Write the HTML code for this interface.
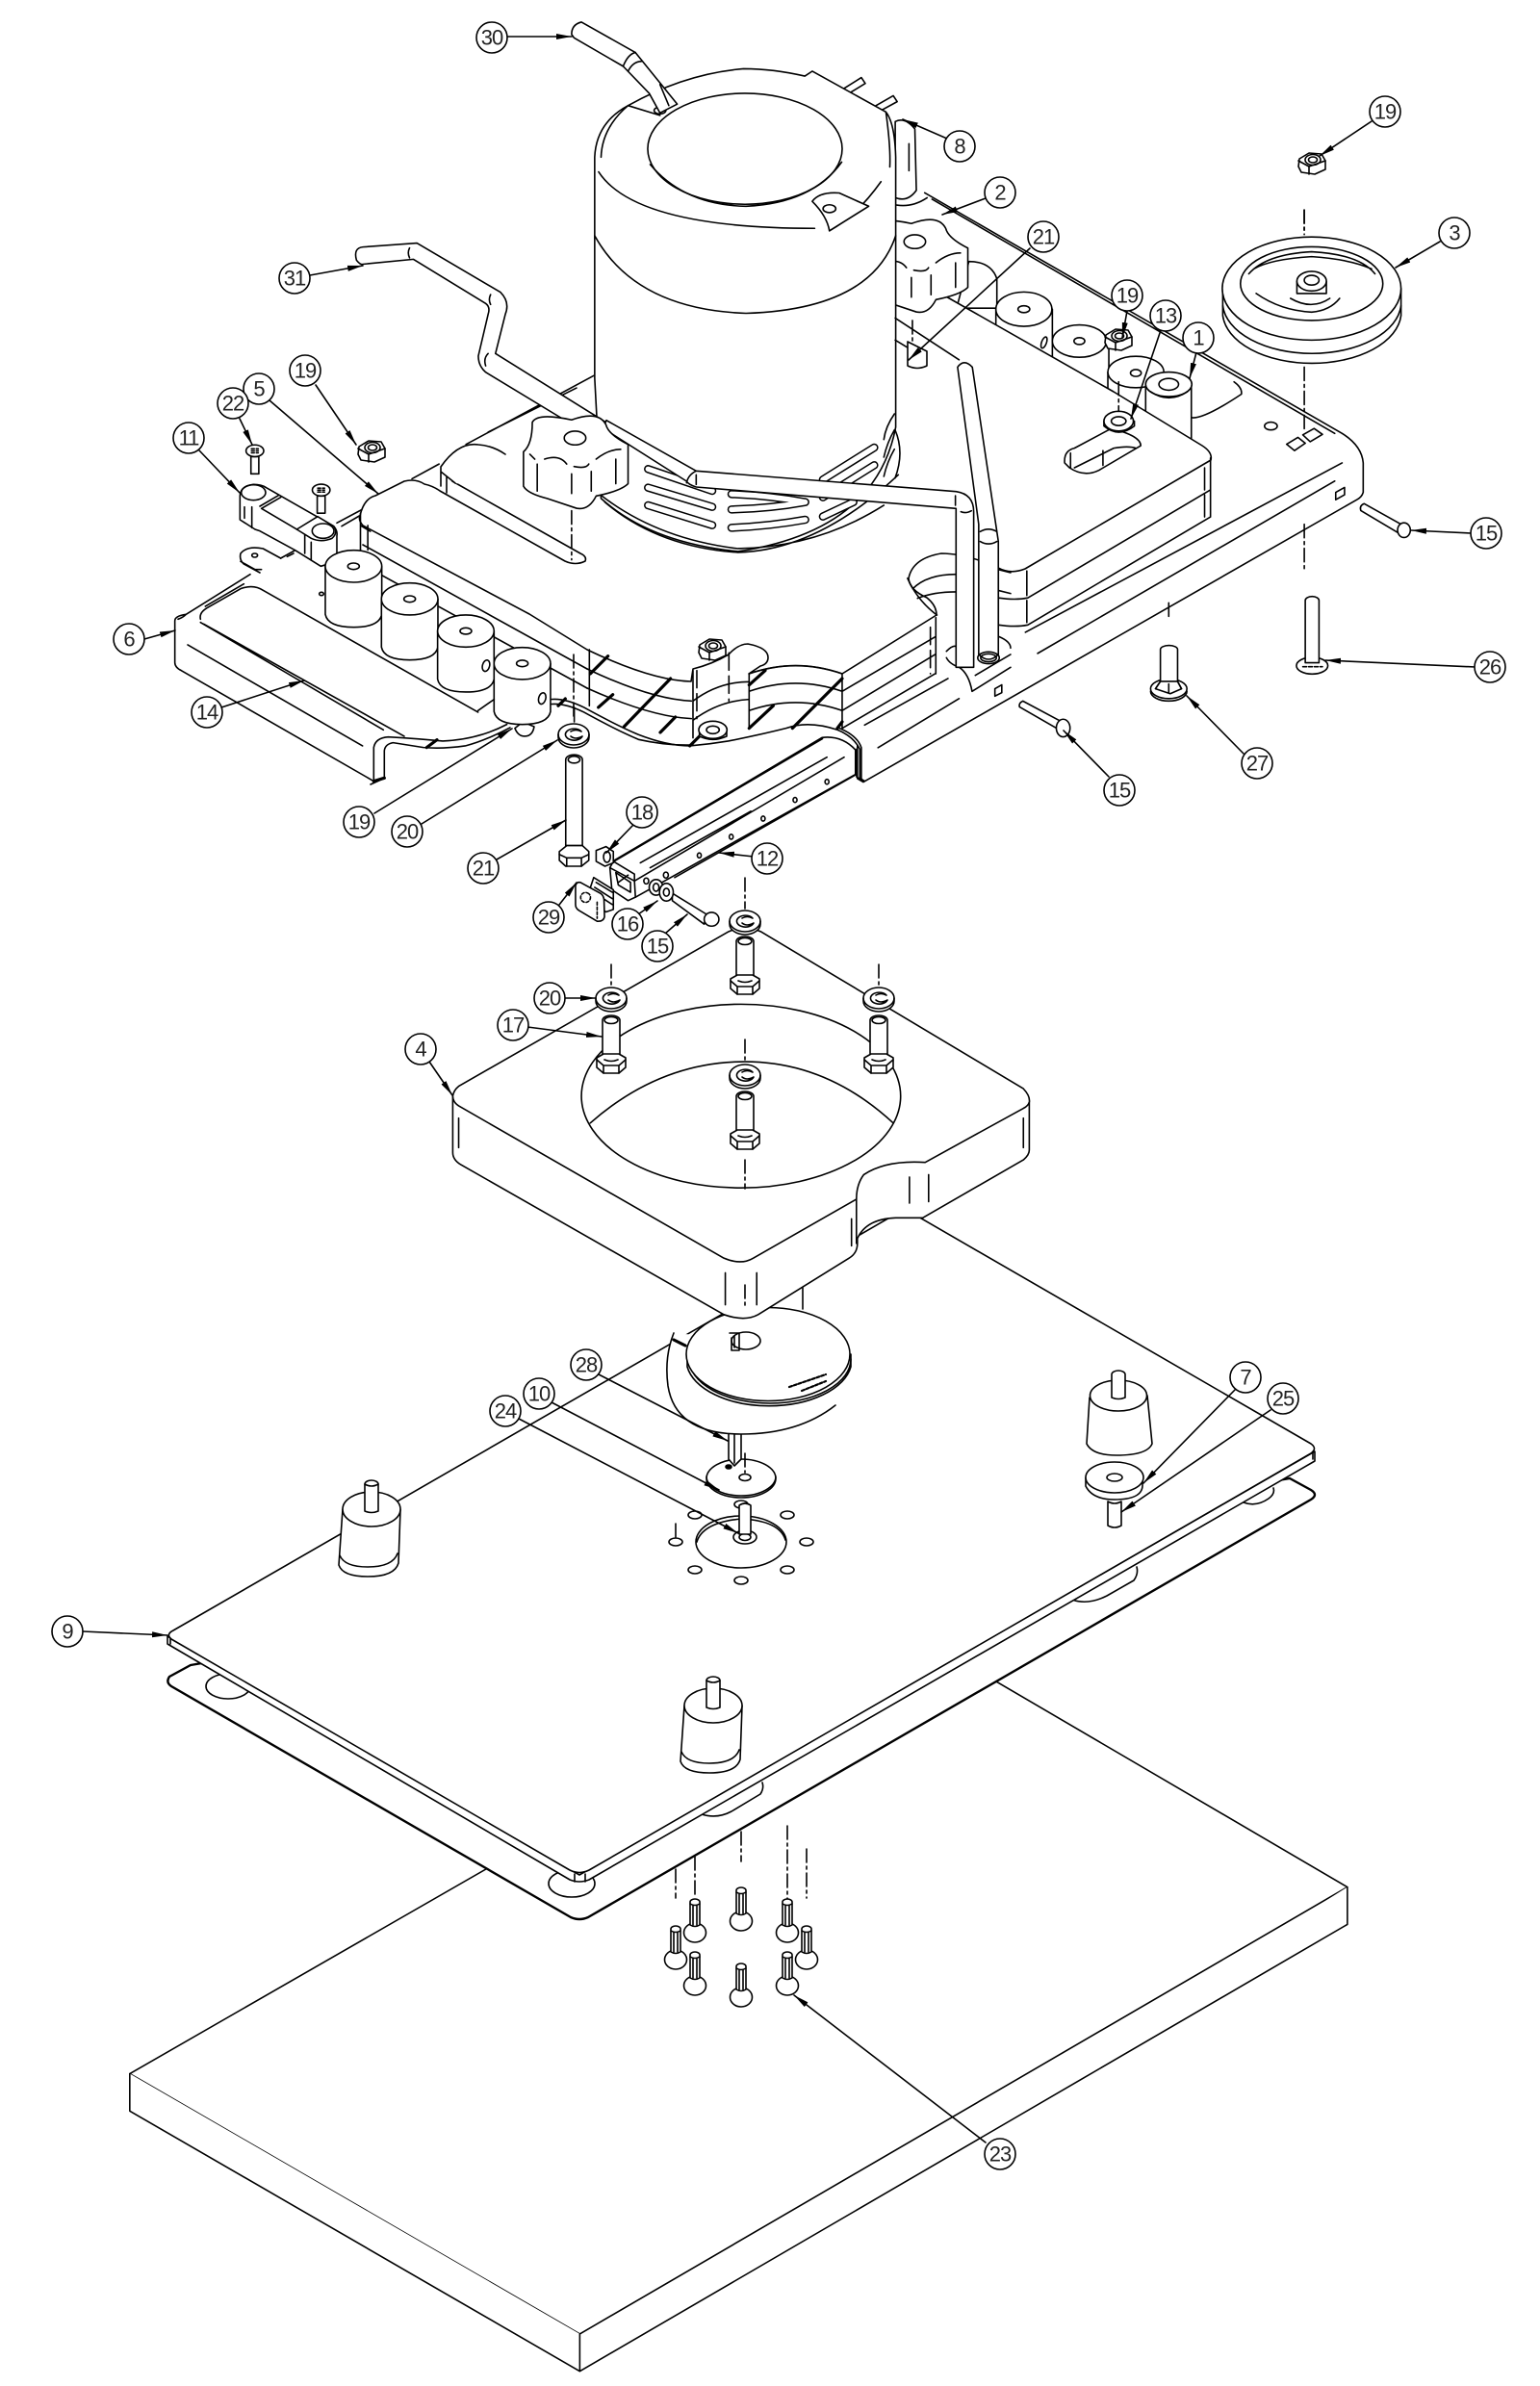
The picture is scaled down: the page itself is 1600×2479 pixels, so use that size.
<!DOCTYPE html>
<html><head><meta charset="utf-8"><style>
html,body{margin:0;padding:0;background:#fff}
svg{display:block;fill:none;stroke:#000;stroke-width:1.6;stroke-linejoin:round;stroke-linecap:round}
svg *{vector-effect:non-scaling-stroke}
.w{fill:#fff}.k{fill:#000}.h{stroke-width:3.2}.t{stroke-width:2.4}.n{fill:#fff;stroke:none}
.d{stroke-dasharray:14 4 3 4}.e{stroke-dasharray:18 6}
text{font:22px "Liberation Sans",sans-serif;letter-spacing:-1px;fill:#222;stroke:none;text-anchor:middle;dominant-baseline:central}
</style></head><body>
<svg width="1600" height="2479" viewBox="0 0 1600 2479" xmlns="http://www.w3.org/2000/svg">
<defs>
<marker id="a" markerUnits="userSpaceOnUse" markerWidth="18" markerHeight="10" refX="16" refY="5" orient="auto"><path d="M0,2 L16,5 L0,8Z" fill="#000" stroke="none"/></marker>
<g id="nut"><path class="w" d="M-13,-5L-3,-11L10,-10L14,-3V6L3,11L-11,9L-14,3Z"/><path d="M-14,-3L-3,3L14,-3M-3,3V11"/><ellipse cx="1" cy="-4" rx="8" ry="5.5"/><ellipse cx="1" cy="-4" rx="4.5" ry="3"/></g>
<g id="wa"><path class="w" d="M-16,0V3A16,11 0 0 0 16,3V0A16,11 0 0 0 -16,0Z"/><path d="M-16,0A16,11 0 0 0 16,0"/><path d="M7,-4A9,6 0 1 0 9,2Q2,6 -3,2M-3,-3Q2,-6 8,-3"/></g>
<g id="bolt"><path class="w" d="M-9,3V42H9V3A9,5 0 0 0 -9,3Z"/><ellipse cy="3" rx="7" ry="3.5"/><path class="w" d="M-15,42L-8,38H8L15,42V52L8,58H-8L-15,52Z"/><path d="M-15,44L-8,50H8L15,44M-8,50V58M8,50V58M-7,44Q0,47 7,44"/></g>
<g id="pad"><path class="w" d="M-30,0L-34,58Q-30,70 -4,70Q24,70 28,56L30,0Z"/><path d="M-33,48Q-28,60 -4,60Q22,60 27,46"/><ellipse class="w" rx="30" ry="18"/><path class="w" d="M-7,2V-26A7,4 0 0 1 7,-26V2Q0,5 -7,2Z"/><path d="M-7,-26Q0,-22 7,-26"/></g>
<g id="sc"><ellipse class="w" rx="11.5" ry="10"/><path class="w" d="M-5,-8V-32A5,3 0 0 1 5,-32V-8Q0,-5 -5,-8Z"/><path d="M-5,-30Q0,-27 5,-30M-2,-28V-8M2,-28V-8"/></g>
<g id="cyl"><path class="w" d="M-88,0V150Q-80,190 0,190Q80,190 88,150V0Z"/><ellipse class="w" rx="88" ry="50"/><ellipse rx="18" ry="10"/></g>
<g id="knob"><path class="w" d="M790,860Q800,840 870,855Q925,835 940,865Q945,885 985,905V985Q970,1000 920,1010Q905,1040 880,1035L820,1015Q780,1005 772,990V920Q790,905 790,860Z"/><ellipse cx="877" cy="892" rx="22" ry="14"/><path d="M785,925L795,935M815,935Q845,925 860,945M875,950Q900,955 905,945M920,935Q945,915 970,915M870,965V1005M910,960V1000M800,945V1000M960,935V985"/></g>
</defs>

<!-- slab -->
<g transform="translate(100,1679) scale(.829,.5102)"><path class="w" d="M42,932L1014,25L1568,552L606,1462Z"/><path class="w" d="M42,932V1008L606,1538V1462M606,1538L1568,628V552"/></g>

<!-- lower sheet & plate -->
<path class="w t" d="M198,1730L176,1742Q172,1748 178,1752L593,1992Q602,1996 611,1992L1362,1558Q1370,1553 1362,1548L1340,1536Z"/>
<ellipse cx="237" cy="1752" rx="23" ry="13"/><ellipse cx="594" cy="1957" rx="24" ry="14"/>
<path d="M1114,1662Q1130,1668 1150,1658L1178,1642Q1183,1635 1181,1628M729,1885Q745,1890 760,1882L790,1864Q794,1858 792,1852M1292,1561Q1305,1566 1318,1557Q1325,1552 1323,1546"/>
<path class="w" d="M174,1700V1708L592,1953Q602,1957 612,1953L1366,1518V1508L602,1948Z"/>
<path class="w" d="M180,1694L940,1256L1362,1500Q1369,1505 1362,1510L612,1943Q602,1948 592,1943L178,1703Q172,1698 180,1694Z"/>
<path d="M177,1702V1708M597,1947V1955M608,1947V1955M1364,1508V1516"/>

<!-- plate hole + holes -->
<ellipse cx="770" cy="1602" rx="47" ry="27"/><path d="M724,1602Q730,1582 770,1578Q810,1580 816,1600"/>
<g><ellipse cx="722" cy="1574" rx="7" ry="4"/><ellipse cx="818" cy="1574" rx="7" ry="4"/><ellipse cx="770" cy="1563" rx="7" ry="4"/><ellipse cx="702" cy="1602" rx="7" ry="4"/><ellipse cx="722" cy="1631" rx="7" ry="4"/><ellipse cx="770" cy="1642" rx="7" ry="4"/><ellipse cx="818" cy="1631" rx="7" ry="4"/><ellipse cx="838" cy="1602" rx="7" ry="4"/></g>
<ellipse class="w" cx="774" cy="1597" rx="12" ry="7"/><ellipse cx="774" cy="1597" rx="6" ry="3.5"/>
<path class="w" d="M768,1564Q774,1560 780,1564V1594H768Z"/>
<line class="d" x1="702" y1="1583" x2="702" y2="1600"/>

<!-- pads -->
<use href="#pad" x="386" y="1568"/><use href="#pad" x="741" y="1772"/>
<path class="w" d="M1132,1452L1129,1500Q1135,1512 1160,1512Q1192,1512 1197,1500L1192,1450Z"/>
<ellipse class="w" cx="1162" cy="1450" rx="29.5" ry="16"/><path class="w" d="M1155,1452V1428A7,4 0 0 1 1169,1428V1452Q1162,1455 1155,1452Z"/>
<path class="w" d="M1128,1535V1544Q1135,1558 1158,1558Q1186,1558 1187,1544V1535Z"/><ellipse class="w" cx="1158" cy="1535" rx="30" ry="16"/><ellipse cx="1158" cy="1535" rx="8" ry="4"/>
<path class="w" d="M1151,1560V1585Q1158,1589 1165,1585V1560Q1158,1564 1151,1560Z"/>

<!-- disc 10, shaft -->
<ellipse class="w" cx="770" cy="1536" rx="36" ry="20"/><path d="M734,1534A36,20 0 0 0 806,1534"/><ellipse cx="774" cy="1535" rx="6" ry="3.5"/><ellipse class="k" cx="757" cy="1524" rx="3" ry="2"/>
<path class="w" d="M757,1488V1516L763,1523L770,1516V1488Z"/><path d="M763,1488V1520"/><line class="d" x1="774" y1="1510" x2="774" y2="1530"/>

<!-- pulley -->
<path d="M834,1338V1360"/>
<path class="n" d="M700,1385Q690,1410 694,1440Q702,1490 770,1490Q830,1490 868,1462L870,1400Z"/>
<path d="M700,1385Q690,1410 694,1440Q702,1490 770,1490Q830,1490 868,1460"/>
<path class="w" d="M714,1407V1420A86,48 0 0 0 884,1420V1407Z"/>
<path d="M716,1412A84,46 0 0 0 884,1412"/>
<ellipse class="w" cx="798" cy="1407" rx="85" ry="48.5"/>
<ellipse cx="775" cy="1393" rx="15" ry="9"/><path d="M758,1385H768V1403H760V1390M763,1388V1400"/>
<line x1="820" y1="1441" x2="858" y2="1428" stroke-width="2.2" stroke-dasharray="3 2"/><line x1="833" y1="1445" x2="858" y2="1435" stroke-width="2.2" stroke-dasharray="3 2"/>

<!-- block 4 -->
<g transform="translate(400,700) scale(.5102)">
<path class="w" d="M138,860V975Q138,990 155,1000L690,1305Q733,1320 760,1305L945,1190Q962,1180 962,1160V1150Q980,1110 1040,1108H1095L1300,990Q1312,980 1312,970V870Z"/>
<path class="w" d="M138,860Q140,848 150,840L700,525Q733,510 765,525L1300,845Q1314,860 1312,872Q1310,880 1300,885L1100,995Q1020,990 975,1020Q960,1040 960,1070L750,1190Q725,1205 690,1190L150,880Q138,872 138,860Z"/>
<ellipse class="w" cx="725" cy="860" rx="325" ry="187"/>
<path d="M418,915Q560,790 733,790Q900,790 1035,915M960,1070V1160M150,905V965M1300,905V965M693,1220V1285M757,1220V1285M950,1110V1165M1068,1025V1078M1107,1020V1075"/>
</g>
<path class="d" d="M774,912V944M635,1002V1027M913,1002V1027M774,1080V1105M774,1205V1235M596,680V745M774,1335V1360"/>
<use href="#wa" x="774" y="957"/><use href="#wa" x="635" y="1037"/><use href="#wa" x="913" y="1037"/><use href="#wa" x="774" y="1117"/>
<use href="#bolt" x="774" y="975"/><use href="#bolt" x="635" y="1057"/><use href="#bolt" x="913" y="1057"/><use href="#bolt" x="774" y="1136"/>

<!-- screws, dashes -->
<path class="d" d="M702,1942V1972M722,1929V1972M770,1903V1934M818,1897V1975M838,1921V1972"/>
<use href="#sc" x="722" y="2008"/><use href="#sc" x="770" y="1996"/><use href="#sc" x="818" y="2008"/><use href="#sc" x="702" y="2036"/><use href="#sc" x="838" y="2036"/><use href="#sc" x="722" y="2063"/><use href="#sc" x="770" y="2075"/><use href="#sc" x="818" y="2063"/>

<!-- base frame right -->
<g transform="translate(800,60) scale(.5102)">
<path d="M315,275L1165,765Q1205,790 1208,825V885Q1205,895 1195,900L190,1475L178,1468V1400M330,288L1150,765M1165,825L520,1170M1150,862L545,1213M385,1305L220,1405M140,1365Q178,1380 186,1405V1470"/>
<ellipse cx="1020" cy="750" rx="13" ry="8"/>
<path d="M1052,787L1075,773L1090,785L1068,800ZM1085,768L1108,755L1125,767L1100,782ZM1152,885L1170,875V890L1152,900ZM458,1285L472,1277V1293L458,1300ZM860,733Q885,735 960,685Q962,672 945,660"/>
<path class="d" d="M1088,310V360M1088,630V760M1088,950V1045M812,1110V1140"/>
</g>
<!-- base frame left -->
<g transform="translate(150,500) scale(.3333)">
<path d="M95,435Q95,420 130,415L330,290M190,390L310,320M95,435V565Q95,580 115,590L715,935M130,415Q120,425 105,430M360,285L310,258Q295,245 300,225Q320,200 370,210L425,240M300,250L345,275H365M135,510L680,825M175,430Q170,410 195,395L300,335Q340,320 370,340L1040,720M175,440L745,775M185,445L810,795M705,945L750,925"/>
<ellipse cx="344" cy="231" rx="9" ry="6"/><ellipse cx="552" cy="351" rx="7" ry="5"/>
<path d="M600,130L675,90M615,140L670,108M425,240L470,215M445,235L465,225"/>
<path d="M715,935V830Q720,800 760,797Q850,802 930,810Q1040,805 1130,758M748,925V840Q750,820 775,815L870,830Q930,835 1000,825Q1060,810 1140,768"/>
<path class="h" d="M880,830L912,806M715,935L748,925"/>
</g>
<g transform="translate(150,0) scale(.5102)"><path d="M545,975L600,945M655,905L915,765M700,880L880,790"/></g>

<!-- bracket 11 -->
<g transform="translate(150,500) scale(.3333)">
<path class="w" d="M298,45Q300,15 340,10Q365,10 380,20L590,140Q603,155 600,170V250L550,265L470,215L360,155L345,150L298,120Z"/>
<path d="M365,85L425,50M360,78L418,44M335,80V145M312,80V115M365,85L475,150M500,165V225M520,190V245"/>
<ellipse cx="340" cy="35" rx="38" ry="24"/>
<path class="w" d="M475,150L540,110L590,140Q605,160 585,178Q550,192 520,178Z"/>
<ellipse cx="557" cy="155" rx="34" ry="23"/>
</g>
<g transform="translate(150,0) scale(.5102)">
<path class="w" d="M217,930V965H233V930Z"/><ellipse class="w" cx="225" cy="918" rx="18" ry="12"/><path d="M218,918H232M218,914H232M218,922H232" stroke-dasharray="3 2"/>
<path class="w" d="M352,1010V1045H368V1010Z"/><ellipse class="w" cx="360" cy="998" rx="18" ry="12"/><path d="M353,998H367M353,994H367M353,1002H367" stroke-dasharray="3 2"/>
</g>
<use href="#nut" x="386" y="469"/>

<!-- rear cylinders -->
<g transform="translate(800,60) scale(.5102)">
<path class="w" d="M405,415Q450,415 462,450V510H380Z"/>
<path class="w" d="M460,512V640H575V512Z"/><ellipse class="w" cx="517" cy="512" rx="57" ry="35"/><ellipse cx="517" cy="512" rx="12" ry="7"/><ellipse cx="558" cy="580" rx="5" ry="12" transform="rotate(20 558 580)"/>
<ellipse class="w" cx="630" cy="577" rx="55" ry="33"/><ellipse cx="630" cy="577" rx="11" ry="7"/>
<path d="M690,590V650"/>
<path class="w" d="M688,640V760H802V640Z"/><ellipse class="w" cx="745" cy="640" rx="57" ry="32"/><ellipse cx="745" cy="642" rx="11" ry="7"/>
<path class="w" d="M765,665V790H858V665Z"/><ellipse class="w" cx="812" cy="665" rx="47" ry="25"/><ellipse cx="812" cy="665" rx="20" ry="12"/><path d="M775,680Q812,705 850,680"/>
</g>

<!-- pad stack top -->
<path class="n" d="M374,536Q378,518 390,515L420,500Q432,497 441,503L700,400L981,307L1157,407L1249,463Q1260,470 1258,478L1065,591Q1050,597 1037,590Q1004,575 978,575Q948,580 944,601Q945,613 963,621Q973,629 973,639L875,700Q827,683 778,700L790,692Q798,690 798,683Q798,673 777,669Q767,669 757,680Q740,690 720,695L718,708Q677,707 610,675L550,638L377,546Q372,540 374,536Z"/>
<path d="M981,307L1157,407L1249,463Q1260,470 1258,478L1065,591Q1050,597 1037,590Q1004,575 978,575Q948,580 944,601Q945,613 963,621Q973,629 973,639L875,700Q827,683 778,700L790,692Q798,690 798,683Q798,673 777,669Q767,669 757,680Q740,690 720,695L718,708Q677,707 610,675L550,638L377,546Q372,540 374,536Q378,518 390,515L420,500Q432,497 441,503Q450,505 457,510L587,583Q598,588 608,583Q610,578 603,575L470,500"/>
<!-- rear slab -->
<path class="w" d="M458,485Q476,459 497,462Q512,463 525,472L620,520L473,502L458,490Z" stroke="none"/>
<path d="M458,505V485Q476,459 497,462Q512,463 525,472M458,490L473,502M464,495V512"/>
<path class="w" d="M943,355V380Q953,385 963,380V365Z"/>

<g transform="translate(150,0) scale(.5102)"><path d="M440,1045V1130M440,1070L460,1082M455,1070V1120"/></g>
<path d="M377,566L610,695M379,588L610,715"/>
<g transform="translate(550,400) scale(.3333)">
<path d="M180,885Q380,980 505,985M180,945Q380,1035 505,1040M187,825V1000"/>
<path d="M510,890V1100M685,900V1070M510,985Q590,925 685,925M510,1045Q590,985 685,980M685,955Q830,905 975,955M685,1015Q830,965 975,1015M685,900Q830,850 975,900M975,900V1070M975,955L1265,785M975,1015L1265,840M975,1070L1265,900M1267,725V900"/>
<path class="e" d="M1250,755V900M522,890V1040M622,835V985"/>
<path d="M1195,635Q1240,590 1330,590M1210,665Q1260,645 1330,645M1460,575L1500,585M1460,640L1500,650"/>
<path class="h" d="M190,900L245,845M215,1005L260,965M295,1065L440,915M408,1083L455,1035M500,1125L530,1095M685,935L735,890M685,1070L760,1000M820,1070L975,915M960,1070L975,1050M90,1000L112,978"/>
<path d="M65,980Q110,975 170,1005Q270,1060 340,1090Q430,1125 500,1125Q560,1120 620,1110Q720,1090 800,1070Q870,1045 960,1075Q1010,1095 1030,1135V1225L1045,1235"/>
<path d="M65,995Q110,990 170,1020Q270,1075 340,1105Q430,1125 510,1122M1020,1135V1222L1045,1235M1045,1060L1305,915"/>
<path d="M1300,830Q1320,810 1330,815M1300,850Q1310,870 1340,880Q1370,900 1380,955L1500,880M1390,905L1500,840M1465,785Q1500,800 1500,820"/>
</g>
<g transform="translate(800,60) scale(.5102)">
<path d="M465,1045V1155M465,1100Q500,1105 525,1100L897,880M465,1155Q500,1160 525,1155L897,935M897,815V935M885,835V880M885,890V935M523,1045V1095M523,1105V1150M280,1060Q300,1105 340,1135"/>
<path class="w" d="M600,825Q598,800 620,795L695,755Q755,770 755,790L670,840Q640,855 610,835Z"/>
<path d="M612,805V835M678,800V830M620,835L700,795Q730,790 745,795"/>
<path class="w" d="M680,740V750Q710,775 742,750V740Z"/><ellipse class="w" cx="710" cy="740" rx="30" ry="20"/><ellipse cx="710" cy="740" rx="15" ry="9"/>
<line class="d" x1="710" y1="660" x2="710" y2="720"/><line class="d" x1="290" y1="535" x2="290" y2="580"/>
</g>

<!-- left cushions -->
<g transform="translate(150,500) scale(.3333)">
<use href="#cyl" x="652" y="265"/><use href="#cyl" x="827" y="367"/><use href="#cyl" x="1002" y="467"/>
<ellipse cx="1065" cy="575" rx="11" ry="18" transform="rotate(15 1065 575)"/>
<path class="w" d="M1155,770Q1165,795 1185,795Q1210,795 1215,765L1180,750Z"/>
<use href="#cyl" x="1178" y="568"/>
<ellipse cx="1240" cy="677" rx="11" ry="18" transform="rotate(15 1240 677)"/>
<path d="M1040,715L1090,680M1340,705V750"/>
</g>
<use href="#wa" x="596" y="763"/>

<!-- knob 2, part 8 -->
<g transform="translate(800,60) scale(.5102)"><path class="w" d="M255,130Q275,120 295,145L298,270Q280,295 255,285Z"/><path d="M283,175V230M258,300Q290,305 320,285"/></g>
<g transform="translate(353,-204)"><g transform="translate(150,0) scale(.5102)"><use href="#knob"/></g></g>

<!-- motor -->
<g transform="translate(150,0) scale(.5102)">
<path d="M1425,180L1460,158L1468,170L1435,190M1490,215L1525,195L1533,207L1500,225"/>
<path class="w" d="M917,320Q920,250 985,215Q1100,150 1220,140Q1280,140 1345,155L1360,145L1510,228Q1528,250 1530,320V870Q1490,1080 1209,1123Q1030,1105 930,1015L917,770Z"/>
<path d="M917,480Q1000,630 1225,638Q1480,630 1530,480M925,350Q1000,465 1365,465M1395,470Q1450,440 1500,370M930,320Q932,260 985,215L1050,235M1510,228Q1520,300 1518,340"/>
<ellipse class="w" cx="1223" cy="303" rx="198" ry="113"/>
<path d="M1030,335Q1100,418 1225,420Q1360,414 1420,330"/>
<path class="w" d="M1360,410Q1375,390 1415,393L1475,420L1395,470Q1390,440 1360,410Z"/><ellipse cx="1395" cy="425" rx="13" ry="8"/>
<ellipse cx="1050" cy="225" rx="12" ry="7"/>
<path class="w" d="M870,70Q870,50 890,45L1000,107L1085,212L1050,230L1028,190L975,135L875,77Z"/><path d="M975,135Q985,110 1000,107M1050,172L1068,215M985,145Q995,125 1012,125"/>
</g>
<g transform="translate(550,400) scale(.3333)">
<path d="M225,345Q400,480 650,510Q900,505 1105,375M235,365Q400,505 650,522Q900,515 1150,280"/>
<g stroke-width="8.5"><path d="M370,262L570,330M370,320L570,380M370,375L570,437M630,340Q750,345 860,365M630,388Q750,385 860,365M630,445Q750,440 860,420M915,295L1075,195M915,350L1075,250M915,410L1010,365"/></g>
<g stroke="#fff" stroke-width="5.5"><path d="M370,262L570,330M370,320L570,380M370,375L570,437M630,340Q750,345 860,365M630,388Q750,385 860,365M630,445Q750,440 860,420M915,295L1075,195M915,350L1075,250M915,410L1010,365"/></g>
<path d="M1138,90Q1110,130 1105,170M1138,140Q1115,180 1105,225M1138,200Q1115,240 1105,285M1140,140Q1170,210 1140,290"/>
</g>

<!-- rods -->
<g transform="translate(150,0) scale(.5102)">
<path class="w" d="M445,503Q425,505 432,530Q440,540 445,538L548,528L695,618Q705,625 700,640L680,725Q680,745 695,758L880,870L940,860L715,720L735,640Q745,615 725,595L555,495Z"/>
<path d="M540,505Q535,515 540,525M705,600Q700,610 705,620M700,720Q690,730 695,745"/>
</g>
<g transform="translate(550,400) scale(.3333)">
<path class="w" d="M240,110L520,268L1330,332Q1385,340 1385,395V880L1330,880V385L520,318Q495,310 490,300L230,135Z"/>
<path d="M490,305Q495,280 520,268M520,280V310"/>
<path d="M1328,345V375M1345,395Q1360,402 1378,392"/>
</g>
<g transform="translate(800,60) scale(.5102)">
<path d="M255,530L385,615M255,575L280,590"/>
<path class="w" d="M382,630Q395,612 412,630L465,985V1215Q445,1235 425,1215V950Z"/>
<ellipse cx="445" cy="1222" rx="22" ry="12"/><ellipse cx="445" cy="1222" rx="16" ry="8"/>
<path d="M428,965Q445,955 462,965M428,985Q445,995 462,985"/>
</g>
<use href="#nut" x="1162" y="353"/><use href="#nut" x="740" y="675"/>
<g transform="translate(550,400) scale(.3333)"><path class="w" d="M530,1075V1095Q570,1115 615,1095V1075Z"/><ellipse class="w" cx="572" cy="1075" rx="44" ry="27"/><ellipse cx="572" cy="1075" rx="20" ry="12"/></g>
<g transform="translate(150,0) scale(.5102)"><use href="#knob"/></g>
<g transform="translate(150,0) scale(.5102)"><line class="d" x1="870" y1="1040" x2="870" y2="1140"/></g>

<!-- wheel 3 -->
<g transform="translate(800,60) scale(.5102)">
<path class="w" d="M922,470V525A182,105 0 0 0 1285,525V470Z"/>
<path d="M922,505A182,105 0 0 0 1285,505"/>
<ellipse class="w" cx="1103" cy="470" rx="182" ry="105"/>
<ellipse cx="1103" cy="460" rx="145" ry="75"/>
<path d="M975,440Q1010,400 1103,395Q1200,400 1232,440M985,430Q1020,410 1103,405Q1180,410 1225,430M990,480Q1040,515 1103,518Q1140,515 1160,490M1060,490Q1103,515 1140,490"/>
<path class="w" d="M1073,455V480H1133V455Z"/><ellipse class="w" cx="1103" cy="455" rx="30" ry="20"/><ellipse cx="1103" cy="453" rx="15" ry="10"/>
</g>
<line class="d" x1="1355" y1="218" x2="1355" y2="240"/>
<use href="#nut" x="1363" y="170"/>

<!-- pins, feet -->
<g transform="translate(800,60) scale(.5102)">
<path class="w" d="M1210,908L1285,950L1280,968L1203,922Q1200,912 1210,908Z"/><ellipse class="w" cx="1291" cy="962" rx="13" ry="15"/>
<path class="w" d="M515,1310L590,1350L583,1365L508,1322Q506,1314 515,1310Z"/><ellipse class="w" cx="597" cy="1365" rx="14" ry="18"/>
<ellipse class="w" cx="1104" cy="1238" rx="32" ry="17"/><path class="w" d="M1090,1105V1232H1118V1105A14,8 0 0 0 1090,1105Z"/><path d="M1085,1240H1125" stroke-dasharray="4 2"/>
<ellipse class="w" cx="812" cy="1285" rx="37" ry="20"/><path d="M775,1290A37,20 0 0 0 849,1290"/><path class="w" d="M795,1205V1270L785,1285L815,1295L838,1285L830,1270V1205A17,8 0 0 0 795,1205Z"/><path d="M785,1285L795,1270H830L838,1285M812,1275V1293"/>
</g>

<!-- long bolt, tube, cap etc -->
<g transform="translate(400,700) scale(.5102)">
<path class="w" d="M368,175V350H402V175A17,10 0 0 0 368,175Z"/><ellipse cx="385" cy="175" rx="12" ry="7"/>
<path class="w" d="M355,362L370,350H402L415,362V380L400,392H368L355,380Z"/><path d="M355,368L370,375H400L415,368M370,375V392M400,375V392"/>
<path class="w" d="M465,382L890,130Q930,125 958,155V205L510,455L495,462L462,440L458,395Z"/>
<path d="M458,395L508,422L510,455M465,382L508,408V422M470,405L500,425V445L475,430ZM475,425L495,410"/>
<path class="t" d="M465,382L890,132"/>
<path d="M520,385L900,170M540,395L745,280M590,415L960,205M508,422L935,170"/>
<g><ellipse cx="640" cy="370" rx="4" ry="5"/><ellipse cx="705" cy="332" rx="4" ry="5"/><ellipse cx="770" cy="295" rx="4" ry="5"/><ellipse cx="835" cy="257" rx="4" ry="5"/><ellipse cx="900" cy="220" rx="4" ry="5"/><ellipse cx="572" cy="410" rx="5" ry="6"/><ellipse cx="532" cy="422" rx="5" ry="6"/></g>
<path class="w" d="M425,415L465,440V480L450,485L410,460Z"/><path d="M430,425L463,445M427,435L463,458M425,445L463,470"/>
<path class="w" d="M398,425L440,448Q445,452 446,460L447,495Q445,505 432,504L395,482Q388,478 388,470V432Q390,423 398,425Z"/><path d="M432,465V498M415,448A10,10 0 1 0 416,449" stroke-dasharray="3 2"/>
<path class="w" d="M430,360L450,352L465,362V385L448,392L430,382Z"/><ellipse cx="452" cy="373" rx="7" ry="11"/>
<path class="w" d="M585,447L655,490L650,510L585,462Z"/><ellipse class="w" cx="665" cy="500" rx="15" ry="14"/>
<ellipse class="w" cx="552" cy="435" rx="14" ry="16"/><ellipse cx="552" cy="435" rx="6" ry="8"/>
<ellipse class="w" cx="573" cy="445" rx="14" ry="18"/><ellipse cx="573" cy="445" rx="6" ry="8"/>
</g>

<!-- leaders -->
<g>
<line x1="527" y1="38" x2="594" y2="38" marker-end="url(#a)"/>
<line x1="322" y1="286" x2="377" y2="276" marker-end="url(#a)"/>
<line x1="328" y1="400" x2="370" y2="462" marker-end="url(#a)"/>
<line x1="280" y1="416" x2="393" y2="513" marker-end="url(#a)"/>
<line x1="249" y1="435" x2="262" y2="462" marker-end="url(#a)"/>
<line x1="207" y1="468" x2="249" y2="512" marker-end="url(#a)"/>
<line x1="230" y1="735" x2="316" y2="707" marker-end="url(#a)"/>
<line x1="150" y1="664" x2="182" y2="655" marker-end="url(#a)"/>
<line x1="984" y1="144" x2="938" y2="124" marker-end="url(#a)"/>
<line x1="1024" y1="206" x2="979" y2="223" marker-end="url(#a)"/>
<line x1="1070" y1="258" x2="944" y2="374" marker-end="url(#a)"/>
<line x1="1425" y1="126" x2="1371" y2="162" marker-end="url(#a)"/>
<line x1="1496" y1="251" x2="1450" y2="278" marker-end="url(#a)"/>
<line x1="1171" y1="323" x2="1166" y2="351" marker-end="url(#a)"/>
<line x1="1206" y1="343" x2="1175" y2="435" marker-end="url(#a)"/>
<line x1="1243" y1="366" x2="1236" y2="393" marker-end="url(#a)"/>
<line x1="1529" y1="554" x2="1466" y2="551" marker-end="url(#a)"/>
<line x1="1533" y1="693" x2="1377" y2="686" marker-end="url(#a)"/>
<line x1="1292" y1="783" x2="1233" y2="723" marker-end="url(#a)"/>
<line x1="1152" y1="807" x2="1105" y2="759" marker-end="url(#a)"/>
<line x1="389" y1="845" x2="532" y2="757" marker-end="url(#a)"/>
<line x1="438" y1="856" x2="579" y2="769" marker-end="url(#a)"/>
<line x1="516" y1="893" x2="588" y2="852" marker-end="url(#a)"/>
<line x1="658" y1="857" x2="630" y2="886" marker-end="url(#a)"/>
<line x1="581" y1="940" x2="599" y2="917" marker-end="url(#a)"/>
<line x1="663" y1="950" x2="683" y2="936" marker-end="url(#a)"/>
<line x1="691" y1="970" x2="714" y2="950" marker-end="url(#a)"/>
<line x1="783" y1="890" x2="747" y2="886" marker-end="url(#a)"/>
<line x1="587" y1="1037" x2="619" y2="1037" marker-end="url(#a)"/>
<line x1="548" y1="1067" x2="625" y2="1077" marker-end="url(#a)"/>
<line x1="446" y1="1103" x2="470" y2="1138" marker-end="url(#a)"/>
<line x1="622" y1="1428" x2="756" y2="1497" marker-end="url(#a)"/>
<line x1="573" y1="1457" x2="747" y2="1548" marker-end="url(#a)"/>
<line x1="539" y1="1474" x2="767" y2="1593" marker-end="url(#a)"/>
<line x1="86" y1="1695" x2="174" y2="1699" marker-end="url(#a)"/>
<line x1="1283" y1="1444" x2="1188" y2="1541" marker-end="url(#a)"/>
<line x1="1320" y1="1465" x2="1165" y2="1571" marker-end="url(#a)"/>
<line x1="1024" y1="2226" x2="825" y2="2073" marker-end="url(#a)"/>
</g>
<line class="h" x1="700" y1="1392" x2="712" y2="1398"/>

<!-- labels -->
<g class="w">
<circle cx="511" cy="39" r="16"/><circle cx="306" cy="289" r="16"/><circle cx="317" cy="385" r="16"/><circle cx="269" cy="404" r="16"/><circle cx="242" cy="419" r="16"/><circle cx="196" cy="455" r="16"/><circle cx="215" cy="740" r="16"/><circle cx="134" cy="664" r="16"/>
<circle cx="997" cy="152" r="16"/><circle cx="1039" cy="200" r="16"/><circle cx="1084" cy="246" r="16"/><circle cx="1439" cy="116" r="16"/><circle cx="1511" cy="242" r="16"/><circle cx="1171" cy="307" r="16"/><circle cx="1211" cy="328" r="16"/><circle cx="1245" cy="351" r="16"/><circle cx="1544" cy="554" r="16"/><circle cx="1548" cy="693" r="16"/><circle cx="1306" cy="793" r="16"/><circle cx="1163" cy="821" r="16"/>
<circle cx="373" cy="854" r="16"/><circle cx="423" cy="864" r="16"/><circle cx="502" cy="902" r="16"/><circle cx="667" cy="844" r="16"/><circle cx="570" cy="953" r="16"/><circle cx="652" cy="960" r="16"/><circle cx="683" cy="983" r="16"/><circle cx="797" cy="892" r="16"/><circle cx="571" cy="1037" r="16"/><circle cx="533" cy="1065" r="16"/><circle cx="437" cy="1090" r="16"/><circle cx="609" cy="1418" r="16"/><circle cx="560" cy="1448" r="16"/><circle cx="525" cy="1466" r="16"/><circle cx="70" cy="1695" r="16"/><circle cx="1294" cy="1431" r="16"/><circle cx="1333" cy="1453" r="16"/><circle cx="1039" cy="2238" r="16"/>
</g>
<text x="511" y="39">30</text><text x="306" y="289">31</text><text x="317" y="385">19</text><text x="269" y="404">5</text><text x="242" y="419">22</text><text x="196" y="455">11</text><text x="215" y="740">14</text><text x="134" y="664">6</text>
<text x="997" y="152">8</text><text x="1039" y="200">2</text><text x="1084" y="246">21</text><text x="1439" y="116">19</text><text x="1511" y="242">3</text><text x="1171" y="307">19</text><text x="1211" y="328">13</text><text x="1245" y="351">1</text><text x="1544" y="554">15</text><text x="1548" y="693">26</text><text x="1306" y="793">27</text><text x="1163" y="821">15</text>
<text x="373" y="854">19</text><text x="423" y="864">20</text><text x="502" y="902">21</text><text x="667" y="844">18</text><text x="570" y="953">29</text><text x="652" y="960">16</text><text x="683" y="983">15</text><text x="797" y="892">12</text><text x="571" y="1037">20</text><text x="533" y="1065">17</text><text x="437" y="1090">4</text><text x="609" y="1418">28</text><text x="560" y="1448">10</text><text x="525" y="1466">24</text><text x="70" y="1695">9</text><text x="1294" y="1431">7</text><text x="1333" y="1453">25</text><text x="1039" y="2238">23</text>
</svg>
</body></html>
